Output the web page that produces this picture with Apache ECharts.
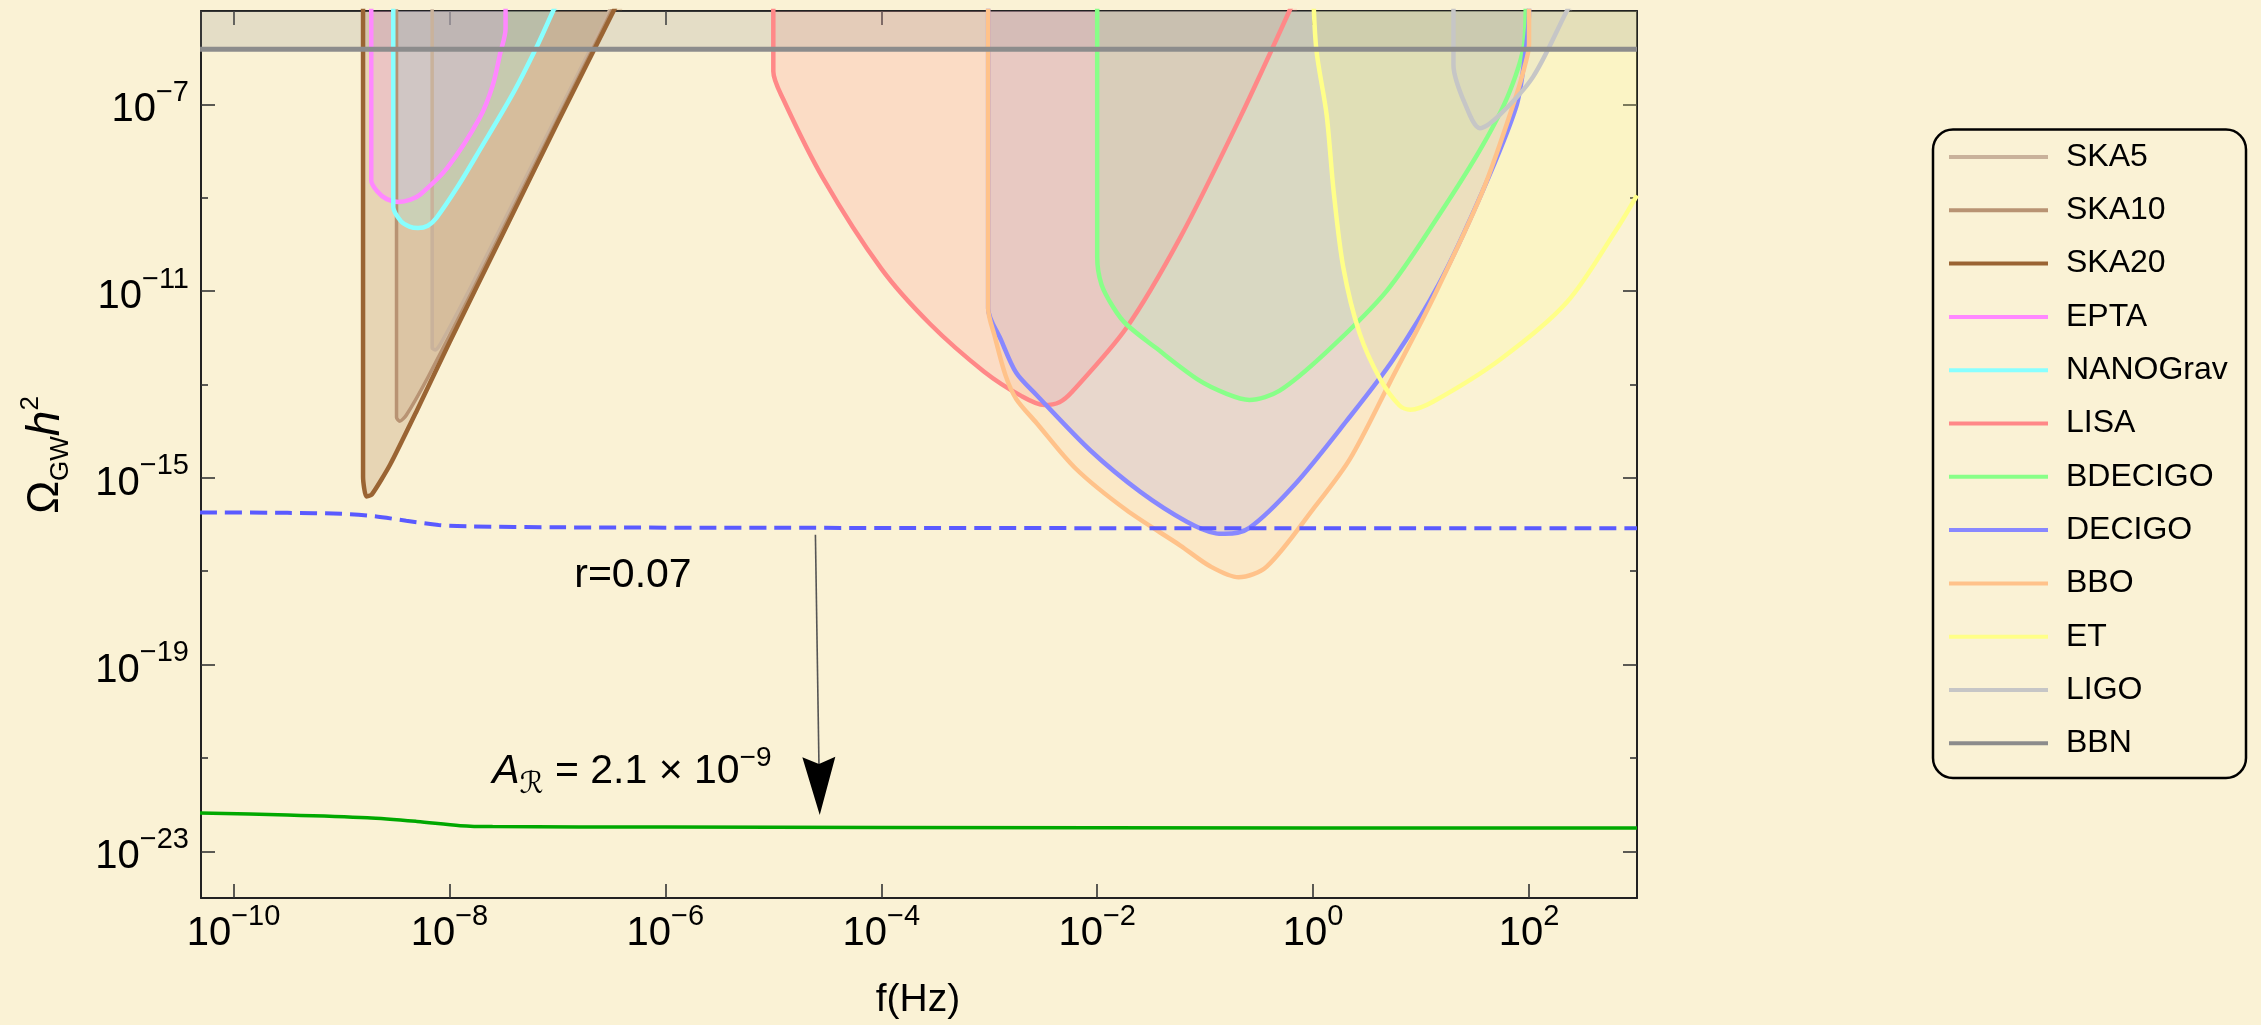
<!DOCTYPE html>
<html><head><meta charset="utf-8">
<script src="https://cdn.jsdelivr.net/npm/echarts@6/dist/echarts.min.js"></script>
<style>html,body{margin:0;padding:0;background:#faf2d5}#c{width:2261px;height:1025px}</style>
</head><body><div id="c"></div>
<script>
// All points are [log10(f / Hz), log10(Omega_GW h^2)]
const X_RANGE = [Math.log10(5e-11), 3];
const Y_RANGE = [-24, -5];
const X_TICKS = [-10, -8, -6, -4, -2, 0, 2];
const Y_MAJOR = [-23, -19, -15, -11, -7];
const Y_MINOR = [-21, -17, -13, -9];

const NAMES = ['SKA5','SKA10','SKA20','EPTA','NANOGrav','LISA','BDECIGO','DECIGO','BBO','ET','LIGO','BBN'];

const SKA5 = [[-8.16,-4.5],[-8.16,-12.22],[-8.13,-12.26],[-8.08,-12.12],[-7.8,-10.9],[-7.3,-8.6],[-6.8,-6.3],[-6.52,-5.0],[-6.47,-4.6]];
const SKA10 = [[-8.49,-4.5],[-8.49,-13.71],[-8.46,-13.79],[-8.40,-13.66],[-8.2,-12.85],[-7.8,-11.05],[-7.3,-8.72],[-6.8,-6.4],[-6.5,-5.0],[-6.45,-4.6]];
const SKA20 = [[-8.80,-4.5],[-8.80,-14.98],[-8.77,-15.40],[-8.72,-15.36],[-8.55,-14.72],[-8.3,-13.55],[-8.0,-12.1],[-7.5,-9.75],[-7.0,-7.4],[-6.48,-5.0],[-6.4,-4.6]];
const EPTA = [[-8.724,-4.5],[-8.724,-8.63],[-8.67,-8.86],[-8.58,-9.03],[-8.47,-9.09],[-8.36,-9.04],[-8.27,-8.93],[-8.02,-8.36],[-7.72,-7.29],[-7.60,-6.6],[-7.53,-5.91],[-7.48,-5.38],[-7.48,-4.5]];
const NANOGRAV = [[-8.52,-4.5],[-8.52,-9.20],[-8.45,-9.5],[-8.37,-9.62],[-8.29,-9.65],[-8.20,-9.6],[-8.12,-9.43],[-7.92,-8.75],[-7.72,-7.98],[-7.41,-6.76],[-7.19,-5.76],[-7.04,-5.0],[-7.0,-4.8]];
const LISA = [[-5.0,-4.5],[-5.0,-6.29],[-4.91,-6.88],[-4.54,-8.58],[-4.0,-10.52],[-3.55,-11.70],[-3.05,-12.72],[-2.70,-13.25],[-2.49,-13.44],[-2.35,-13.38],[-2.23,-13.15],[-1.73,-11.79],[-1.23,-9.85],[-0.68,-7.30],[-0.22,-5.0],[-0.15,-4.6]];
const BDECIGO = [[-2.0,-4.5],[-2.0,-10.27],[-1.96,-10.86],[-1.85,-11.35],[-1.73,-11.71],[-1.46,-12.21],[-1.07,-12.89],[-0.80,-13.2],[-0.59,-13.33],[-0.31,-13.13],[0.125,-12.30],[0.68,-11.0],[1.17,-9.36],[1.57,-7.88],[1.82,-6.73],[1.96,-5.59],[1.97,-4.5]];
const DECIGO = [[-3.01,-4.5],[-3.01,-11.37],[-2.89,-12.05],[-2.75,-12.75],[-2.56,-13.23],[-2.06,-14.42],[-1.6,-15.3],[-1.17,-15.94],[-0.90,-16.19],[-0.82,-16.2],[-0.59,-16.07],[-0.18,-15.17],[0.31,-13.78],[0.74,-12.47],[1.17,-10.83],[1.57,-8.86],[1.88,-7.06],[1.96,-6.0],[2.0,-5.0],[2.0,-4.5]];
const BBO = [[-3.01,-4.5],[-3.01,-11.37],[-2.95,-11.96],[-2.85,-12.8],[-2.75,-13.31],[-2.56,-13.83],[-2.2,-14.8],[-1.73,-15.69],[-1.23,-16.45],[-0.95,-16.9],[-0.69,-17.13],[-0.43,-16.9],[0.0,-15.67],[0.34,-14.6],[0.71,-12.96],[1.11,-11.16],[1.57,-8.86],[1.88,-6.82],[1.98,-6.0],[2.0,-5.7],[2.0,-4.5]];
const ET = [[0.0,-4.5],[0.03,-5.83],[0.125,-7.22],[0.19,-8.86],[0.28,-10.50],[0.43,-11.90],[0.62,-12.88],[0.80,-13.45],[0.90,-13.54],[1.11,-13.37],[1.73,-12.47],[2.35,-11.24],[2.81,-9.68],[3.0,-8.95]];
const LIGO = [[1.30,-4.5],[1.30,-6.16],[1.42,-7.06],[1.545,-7.51],[1.73,-7.22],[2.04,-6.40],[2.35,-5.0],[2.4,-4.8]];
const BBN = [[-10.31,-5.82],[3.0,-5.82]];

const R007 = [[-10.31,-15.74],[-9.5,-15.75],[-9.0,-15.77],[-8.7,-15.82],[-8.4,-15.92],[-8.1,-16.01],[-7.8,-16.04],[-7.0,-16.06],[-5,-16.07],[0,-16.08],[3,-16.08]];
const AR = [[-10.31,-22.18],[-9.5,-22.22],[-8.76,-22.28],[-8.3,-22.36],[-7.9,-22.45],[-7.6,-22.47],[-6,-22.48],[-4,-22.49],[0,-22.5],[3,-22.5]];

const R_LABEL_AT = [-6.30, -17.10];
const A_LABEL_AT = [-6.31, -21.30];
const ARROW = [[-4.61, -16.22], [-4.57, -22.22]];

const REGIONS = [SKA5, SKA10, SKA20, EPTA, NANOGRAV, LISA, BDECIGO, DECIGO, BBO, ET, LIGO, BBN];
const COLORS = ['#c9b29b','#b89373','#9a6433','#ff88ff','#88ffff','#ff8888','#88ff88','#8888ff','#ffc28a','#ffff88','#c6c6c6','#8c8c8c'];
const WIDTHS = [3.5, 3.5, 4.5, 4.5, 4.5, 4.5, 4.5, 4.5, 4.5, 4.5, 4.5, 5];
const SMOOTH = [0.2, 0.2, 0.2, 0.3, 0.3, 0.3, 0.3, 0.3, 0.3, 0.3, 0.3, false];

const FONT = '"Liberation Sans", Arial, Helvetica, sans-serif';
const chart = echarts.init(document.getElementById('c'));

function pow10(v) {
  const e = Math.round(v);
  return '{b|10}{s|' + (e < 0 ? '\u2212' : '') + Math.abs(e) + '}';
}
const tickRich = {
  b: {fontSize: 40, fontFamily: FONT, color: '#000', lineHeight: 52, verticalAlign: 'bottom'},
  s: {fontSize: 29, fontFamily: FONT, color: '#000', lineHeight: 29, verticalAlign: 'top'}
};
const axisLineStyle = {color: '#222', width: 2};
const tickStyle = {color: '#333', width: 1.6};
function xAx(pos, showLabel) {
  return {type: 'value', position: pos, min: X_RANGE[0], max: X_RANGE[1], splitLine: {show: false},
    axisLine: {show: true, onZero: false, lineStyle: axisLineStyle},
    axisTick: {show: true, inside: true, length: 14, customValues: X_TICKS, lineStyle: tickStyle},
    axisLabel: {show: showLabel, customValues: X_TICKS, margin: 4, formatter: pow10, rich: tickRich}};
}
function yAx(pos, ticks, len, showLabel, showLine) {
  return {type: 'value', position: pos, min: Y_RANGE[0], max: Y_RANGE[1], splitLine: {show: false},
    axisLine: {show: showLine, onZero: false, lineStyle: axisLineStyle},
    axisTick: {show: true, inside: true, length: len, customValues: ticks, lineStyle: tickStyle},
    axisLabel: {show: showLabel, customValues: ticks, margin: 12, formatter: pow10, rich: tickRich}};
}

const series = REGIONS.map((d, i) => ({
  name: NAMES[i], type: 'line', data: d, color: COLORS[i], symbol: 'none', showSymbol: false,
  smooth: SMOOTH[i], clip: true, silent: true, lineStyle: {color: COLORS[i], width: WIDTHS[i], join: 'round'},
  areaStyle: {origin: 'end', color: COLORS[i], opacity: 0.2}, itemStyle: {color: COLORS[i]},
  emphasis: {disabled: true}
}));
series.push({name: 'r=0.07', type: 'line', data: R007, symbol: 'none', clip: true, silent: true, smooth: 0.3,
  lineStyle: {color: '#5a5aff', width: 4, type: [17, 8]}, emphasis: {disabled: true}});
series.push({name: 'AR', type: 'line', data: AR, symbol: 'none', clip: true, silent: true, smooth: 0.3,
  lineStyle: {color: '#00a800', width: 3.5}, emphasis: {disabled: true}});

const option = {
  animation: false,
  backgroundColor: '#faf2d5',
  grid: {left: 201, top: 11, width: 1436, height: 887, containLabel: false},
  xAxis: [xAx('bottom', true), xAx('top', false)],
  yAxis: [yAx('left', Y_MAJOR, 14, true, true), yAx('right', Y_MAJOR, 14, false, true),
          yAx('left', Y_MINOR, 7, false, false), yAx('right', Y_MINOR, 7, false, false)],
  legend: {
    data: NAMES, orient: 'vertical', left: 1949, top: 141, padding: 0, itemGap: 21.3,
    icon: 'rect', itemWidth: 99, itemHeight: 4, selectedMode: false,
    textStyle: {fontSize: 32, fontFamily: FONT, color: '#000', lineHeight: 32, padding: [0, 0, 0, 13]}
  },
  series: series
};
chart.setOption(option);

const toPx = p => chart.convertToPixel({xAxisIndex: 0, yAxisIndex: 0}, p);
const rP = toPx(R_LABEL_AT), aP = toPx(A_LABEL_AT);
const p1 = toPx(ARROW[0]), p2 = toPx(ARROW[1]);
const dx = p2[0] - p1[0], dy = p2[1] - p1[1], L = Math.hypot(dx, dy);
const ux = dx / L, uy = dy / L, nx = -uy, ny = ux;
const HL = 58, HW = 16.5, NOTCH = 51;
const base = [p2[0] - ux * HL, p2[1] - uy * HL];
const notch = [p2[0] - ux * NOTCH, p2[1] - uy * NOTCH];

chart.setOption({
  graphic: [
    {type: 'rect', shape: {x: 1933, y: 129.5, width: 313, height: 648.5, r: 20},
     style: {fill: 'none', stroke: '#000', lineWidth: 2.5}, silent: true},
    {type: 'line', shape: {x1: p1[0], y1: p1[1], x2: notch[0], y2: notch[1]},
     style: {stroke: '#555', lineWidth: 1.6}, silent: true, z: 10},
    {type: 'polygon', shape: {points: [p2, [base[0] + nx * HW, base[1] + ny * HW], notch, [base[0] - nx * HW, base[1] - ny * HW]]},
     style: {fill: '#000'}, silent: true, z: 10},
    {type: 'text', x: rP[0], y: rP[1], z: 10, silent: true,
     style: {text: 'r=0.07', fontSize: 41, fontFamily: FONT, fill: '#000', align: 'center', verticalAlign: 'middle'}},
    {type: 'text', x: aP[0], y: aP[1], z: 10, silent: true,
     style: {text: '{a|A}{r|\u211B}{t| = 2.1 \u00D7 10}{s|\u22129}', align: 'center', verticalAlign: 'middle',
       rich: {
         a: {fontSize: 41, fontFamily: FONT, fontStyle: 'italic', fill: '#000', lineHeight: 56},
         r: {fontSize: 30, fontFamily: '"DejaVu Sans", ' + FONT, fontStyle: 'italic', fill: '#000', lineHeight: 30, verticalAlign: 'bottom'},
         t: {fontSize: 41, fontFamily: FONT, fill: '#000', lineHeight: 56},
         s: {fontSize: 28, fontFamily: FONT, fill: '#000', lineHeight: 36, verticalAlign: 'top'}
       }}},
    {type: 'text', x: 46, y: 455, rotation: Math.PI / 2, z: 10, silent: true,
     style: {text: '{o|\u03A9}{g|GW}{h|h}{t|2}', align: 'center', verticalAlign: 'middle',
       rich: {
         o: {fontSize: 44, fontFamily: FONT, fill: '#000', lineHeight: 56},
         g: {fontSize: 26, fontFamily: FONT, fill: '#000', lineHeight: 38, verticalAlign: 'bottom'},
         h: {fontSize: 46, fontFamily: FONT, fontStyle: 'italic', fill: '#000', lineHeight: 56},
         t: {fontSize: 26, fontFamily: FONT, fill: '#000', lineHeight: 22, verticalAlign: 'top'}
       }}},
    {type: 'text', x: 918, y: 1000, z: 10, silent: true,
     style: {text: 'f(Hz)', fontSize: 39, fontFamily: FONT, fill: '#000', align: 'center', verticalAlign: 'middle'}}
  ]
});
</script></body></html>
